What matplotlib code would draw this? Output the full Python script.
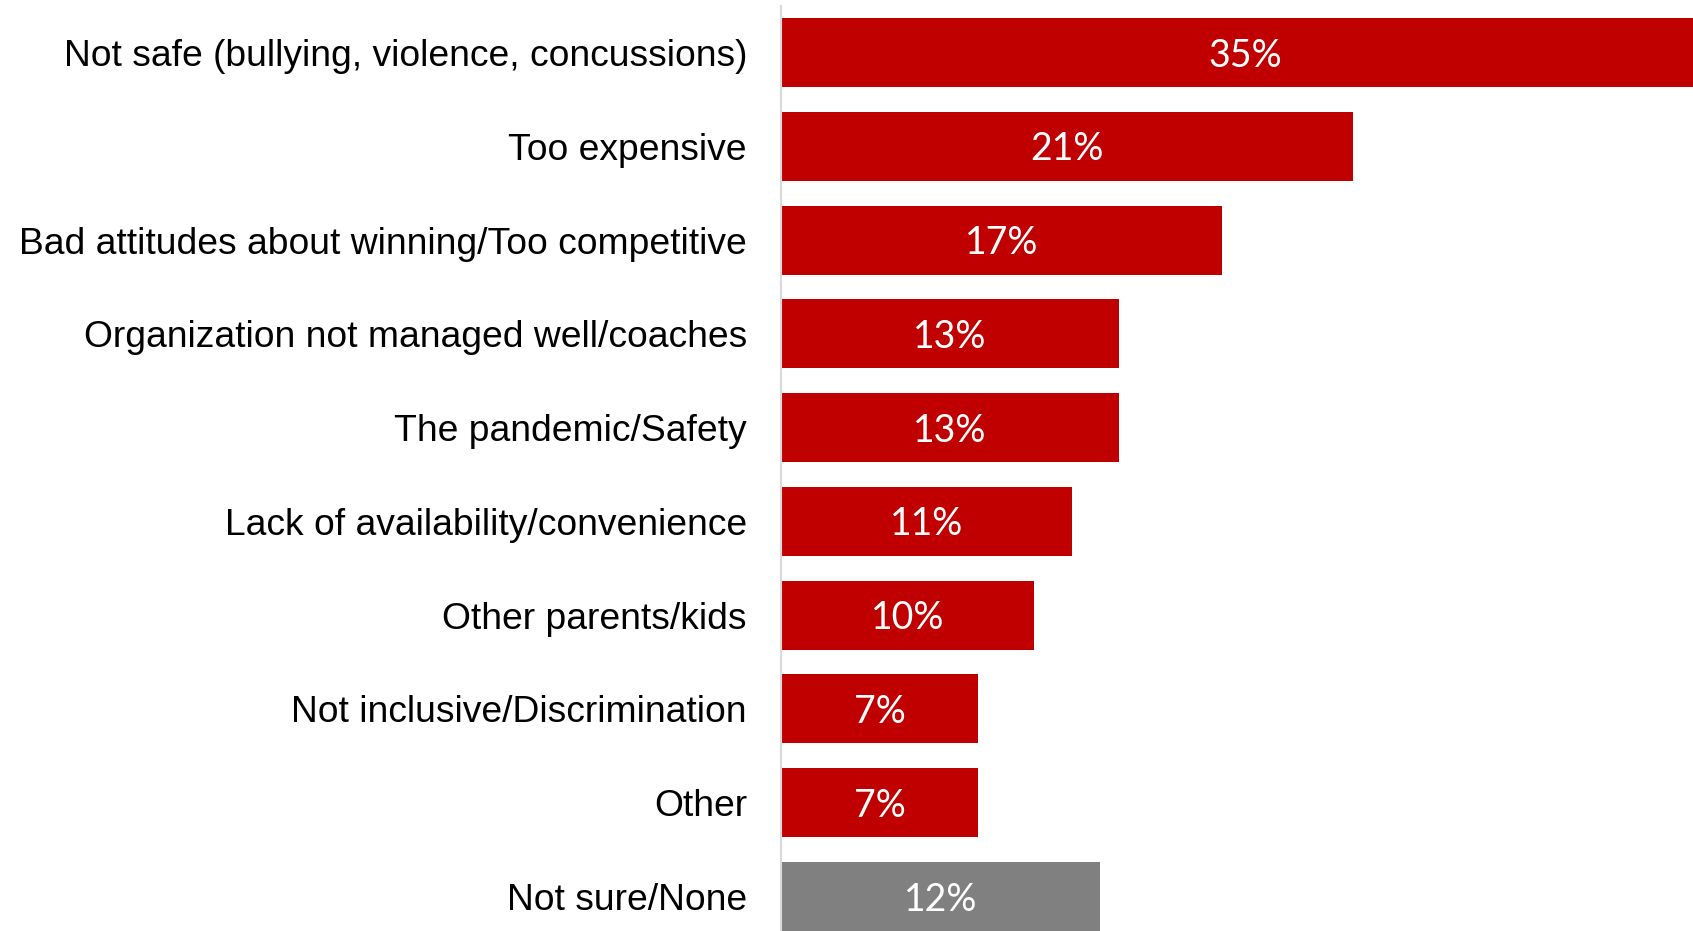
import matplotlib.pyplot as plt

# reasons, top to bottom
reasons = [
    "Not safe (bullying, violence, concussions)",
    "Too expensive",
    "Bad attitudes about winning/Too competitive",
    "Organization not managed well/coaches",
    "The pandemic/Safety",
    "Lack of availability/convenience",
    "Other parents/kids",
    "Not inclusive/Discrimination",
    "Other",
    "Not sure/None",
]
# bar lengths (unrounded estimates)
shares = [34.9, 21.5, 16.57, 12.69, 12.69, 10.93, 9.5, 7.4, 7.4, 11.98]
# labels printed in the bars
share_labels = ["35%", "21%", "17%", "13%", "13%", "11%", "10%", "7%", "7%", "12%"]

RED = "#C00000"
GREY = "#808080"
colors = [RED] * 9 + [GREY]

W, H = 1693, 931
fig = plt.figure(figsize=(W / 100, H / 100), dpi=100)
ax = fig.add_axes([781 / W, 0, (W - 781) / W, (H - 6) / H])

y = list(range(len(reasons)))
ax.barh(y, shares, height=0.736, color=colors)

for yi, v, lab in zip(y, shares, share_labels):
    ax.annotate(lab, (v / 2, yi), xytext=(0, -2.2), textcoords="offset points",
                ha="center", va="center", color="white",
                fontsize=27, family="Lato")

ax.set_xlim(0, 34.25)
ax.set_ylim(9.3677, -0.4958)

ax.set_yticks(y)
ax.set_yticklabels(reasons, fontsize=26.85, family="Liberation Sans")
ax.tick_params(axis="y", length=0, pad=24.5)
ax.set_xticks([])

for side in ["top", "right", "bottom"]:
    ax.spines[side].set_visible(False)
ax.spines["left"].set_color("#d9d9d9")
ax.spines["left"].set_linewidth(1.5)

fig.savefig("out.png", dpi=100)
